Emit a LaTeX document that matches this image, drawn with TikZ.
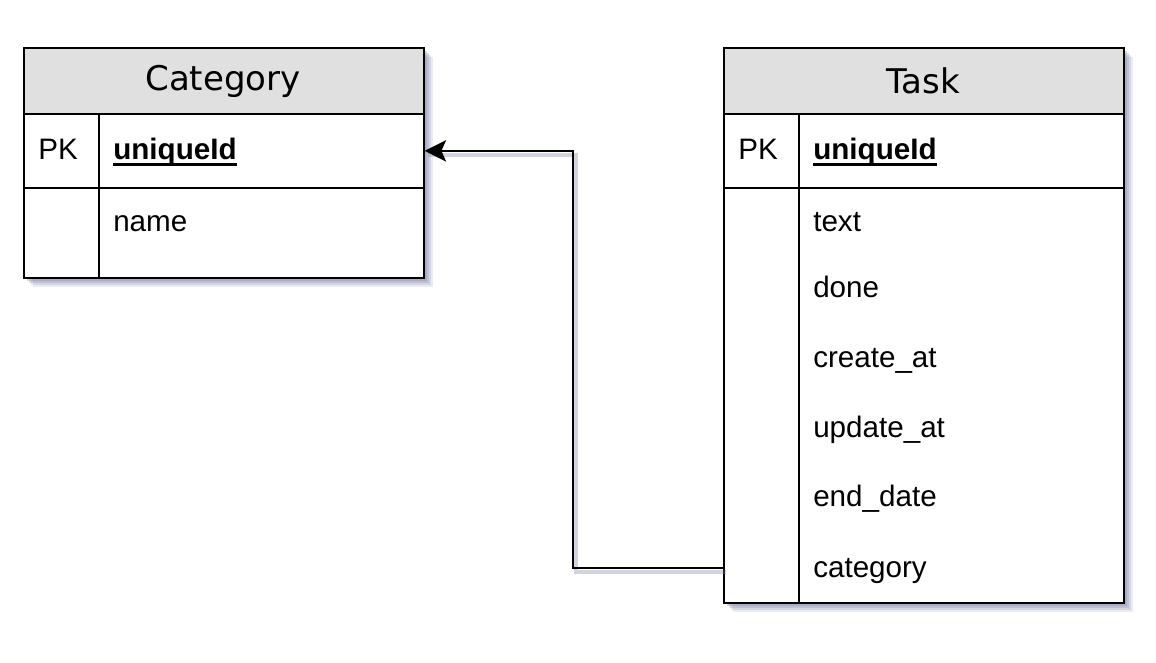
\documentclass[tikz,border=0pt]{standalone}
\usepackage{fontspec}
\setmainfont{Liberation Sans}
\newfontfamily\titlefont{DejaVu Sans}
\usetikzlibrary{arrows.meta}
\definecolor{headgray}{RGB}{224,224,224}
\definecolor{shadowblue}{RGB}{125,130,170}
\newcommand\keyfield[1]{\setbox0\hbox{\textbf{#1}}%
  \rlap{\raisebox{-4.3pt}[0pt][0pt]{\rule{\wd0}{1.8pt}}}\box0}
\tikzset{
  box/.style={draw=black, line width=1.3pt, fill=white, inner sep=0pt, anchor=north west},
  headbox/.style={box, fill=headgray, minimum width=300pt, minimum height=49.5pt},
  title/.style={inner sep=0pt, font=\titlefont\fontsize{25.5}{30}\selectfont},
  keycell/.style={box, minimum width=56.25pt},
  fieldcell/.style={box, minimum width=243.75pt},
  field/.style={anchor=base west, inner sep=0pt, font=\fontsize{22.2}{26}\selectfont},
  conn/.style={line width=1.3pt, -{Stealth[length=16pt,width=16pt,inset=3.5pt]}},
  connshadow/.style={line width=3pt, shadowblue, opacity=0.35}
}
\begin{document}
\begin{tikzpicture}[x=0.75pt,y=-0.75pt]
  \useasboundingbox[fill=white] (0,0) rectangle (1156,663);
  % Schatten
  \foreach \s/\o in {10/0.15,8/0.2,6/0.25,4/0.3} {
    \fill[shadowblue, opacity=\o] (23+\s,47+\s) rectangle (423+\s,277+\s);
    \fill[shadowblue, opacity=\o] (723+\s,47+\s) rectangle (1123+\s,602+\s);
  }
  % Category
  \node[headbox] (cathead) at (23,47) {};
  \node[title] (cattitle) at (223,81) {Category};
  \node[keycell, minimum height=55.5pt] (catpk) at (23,113) {};
  \node[fieldcell, minimum height=55.5pt] (catpkfield) at (98,113) {};
  \node[keycell, minimum height=67.5pt] (catkeys) at (23,187) {};
  \node[fieldcell, minimum height=67.5pt] (catfields) at (98,187) {};
  \node[field] (catpklabel) at (38,160) {PK};
  \node[field] (catid) at (113,160) {\keyfield{uniqueId}};
  \node[field] (catname) at (113,231) {name};
  % Task
  \node[headbox] (taskhead) at (723,47) {};
  \node[title] (tasktitle) at (923,81) {Task};
  \node[keycell, minimum height=55.5pt] (taskpk) at (723,113) {};
  \node[fieldcell, minimum height=55.5pt] (taskpkfield) at (798,113) {};
  \node[keycell, minimum height=311.25pt] (taskkeys) at (723,187) {};
  \node[fieldcell, minimum height=311.25pt] (taskfields) at (798,187) {};
  \node[field] (taskpklabel) at (738,160) {PK};
  \node[field] (taskid) at (813,160) {\keyfield{uniqueId}};
  \node[field] (tasktext) at (813,231) {text};
  \node[field] (taskdone) at (813,297) {done};
  \node[field] (taskcreate) at (813,367) {create\_at};
  \node[field] (taskupdate) at (813,437) {update\_at};
  \node[field] (taskend) at (813,506) {end\_date};
  \node[field] (taskcat) at (813,577) {category};
  % Beziehung
  \coordinate (fkstart) at (723,568);
  \coordinate (fkend) at (catpkfield.east);
  \draw[connshadow] ([shift={(3,4)}]fkstart) -- ++(-150,0) |- ([shift={(3,4)}]fkend);
  \draw[conn] (fkstart) -- ++(-150,0) |- (fkend);
\end{tikzpicture}
\end{document}
